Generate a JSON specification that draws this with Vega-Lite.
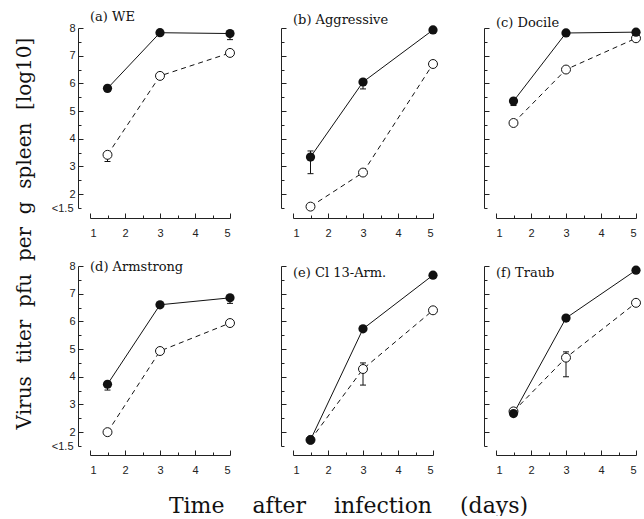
{
"$schema": "https://vega.github.io/schema/vega-lite/v6.json",
"background": "white",
"padding": {"left": 13, "top": 11, "right": 0, "bottom": 0},
"bounds": "flush",
"columns": 3,
"spacing": {"row": 58, "column": 63},
"data": {"values": [
{"panel":"a","s":"filled","day":1.5,"v":5.82},
{"panel":"a","s":"filled","day":3,"v":7.83},
{"panel":"a","s":"filled","day":5,"v":7.8,"lo":7.58,"hi":7.8},
{"panel":"a","s":"open","day":1.5,"v":3.42,"lo":3.18,"hi":3.45},
{"panel":"a","s":"open","day":3,"v":6.27},
{"panel":"a","s":"open","day":5,"v":7.1},
{"panel":"b","s":"filled","day":1.5,"v":3.34,"lo":2.74,"hi":3.56},
{"panel":"b","s":"filled","day":3,"v":6.05,"lo":5.8,"hi":6.1},
{"panel":"b","s":"filled","day":5,"v":7.93},
{"panel":"b","s":"open","day":1.5,"v":1.55},
{"panel":"b","s":"open","day":3,"v":2.78},
{"panel":"b","s":"open","day":5,"v":6.7},
{"panel":"c","s":"filled","day":1.5,"v":5.36,"lo":5.2,"hi":5.4},
{"panel":"c","s":"filled","day":3,"v":7.82},
{"panel":"c","s":"filled","day":5,"v":7.85},
{"panel":"c","s":"open","day":1.5,"v":4.57},
{"panel":"c","s":"open","day":3,"v":6.5},
{"panel":"c","s":"open","day":5,"v":7.63},
{"panel":"d","s":"filled","day":1.5,"v":3.73,"lo":3.52,"hi":3.75},
{"panel":"d","s":"filled","day":3,"v":6.6},
{"panel":"d","s":"filled","day":5,"v":6.85,"lo":6.65,"hi":6.85},
{"panel":"d","s":"open","day":1.5,"v":2.0},
{"panel":"d","s":"open","day":3,"v":4.93},
{"panel":"d","s":"open","day":5,"v":5.94},
{"panel":"e","s":"filled","day":1.5,"v":1.72},
{"panel":"e","s":"filled","day":3,"v":5.73},
{"panel":"e","s":"filled","day":5,"v":7.67},
{"panel":"e","s":"open","day":1.5,"v":1.72},
{"panel":"e","s":"open","day":3,"v":4.28,"lo":3.7,"hi":4.5},
{"panel":"e","s":"open","day":5,"v":6.4},
{"panel":"f","s":"filled","day":1.5,"v":2.67},
{"panel":"f","s":"filled","day":3,"v":6.12},
{"panel":"f","s":"filled","day":5,"v":7.85},
{"panel":"f","s":"open","day":1.5,"v":2.75},
{"panel":"f","s":"open","day":3,"v":4.69,"lo":4.0,"hi":4.9},
{"panel":"f","s":"open","day":5,"v":6.67}
]},
"config": {
  "view": {"stroke": null},
  "axis": {"grid": false, "domainColor": "#222", "tickColor": "#222", "labelColor": "#222", "labelFont": "Liberation Sans", "labelFontSize": 11, "title": null},
  "title": {"font": "DejaVu Serif", "fontSize": 13, "fontWeight": "normal", "color": "#111", "anchor": "start", "frame": "group"}
},
"concat": [
    {"width": 140, "height": 180, "title": {"text": "(a) WE", "offset": -2},
     "transform": [{"filter": "datum.panel === 'a'"}],
     "encoding": {
       "x": {"field": "day", "type": "quantitative", "scale": {"domain": [1, 5]}, "axis": {"offset": 10, "values": [1,1.5,2,2.5,3,3.5,4,4.5,5], "labelExpr": "datum.value % 1 === 0 ? format(datum.value, 'd') : ''", "tickSize": {"condition": {"test": "datum.value % 1 === 0", "value": -5}, "value": -3}, "labelPadding": 14}},
       "y": {"field": "v", "type": "quantitative", "scale": {"domain": [1.5, 8]}, "axis": {"offset": 12, "values": [1.5,2,2.5,3,3.5,4,4.5,5,5.5,6,6.5,7,7.5,8], "labelExpr": "datum.value === 1.5 ? '<1.5' : (datum.value % 1 === 0 ? format(datum.value, 'd') : '')", "tickSize": {"condition": {"test": "datum.value % 1 === 0", "value": -5}, "value": -3}, "labelPadding": 8,
         "title": "Virus\u00a0\u00a0titer\u00a0\u00a0pfu\u00a0\u00a0per\u00a0\u00a0g\u00a0\u00a0spleen\u00a0\u00a0[log10]", "titleFont": "DejaVu Serif", "titleFontSize": 20, "titleFontWeight": "normal", "titleColor": "#111", "titleAngle": -90, "titleBaseline": "middle", "titleAlign": "center", "titleX": -54, "titleY": 205}}
     },
     "layer": [
       {"transform": [{"filter": "datum.s === 'open'"}], "mark": {"type": "line", "color": "#111", "strokeWidth": 1, "strokeDash": [5, 4]}},
       {"transform": [{"filter": "datum.s === 'filled'"}], "mark": {"type": "line", "color": "#111", "strokeWidth": 1}},
       {"transform": [{"filter": "isValid(datum.lo)"}], "mark": {"type": "rule", "color": "#111", "strokeWidth": 1}, "encoding": {"y": {"field": "lo", "type": "quantitative"}, "y2": {"field": "hi"}}},
       {"transform": [{"filter": "isValid(datum.lo)"}], "mark": {"type": "tick", "orient": "horizontal", "color": "#111", "size": 6, "thickness": 1, "opacity": 1}, "encoding": {"y": {"field": "lo", "type": "quantitative"}}},
       {"transform": [{"filter": "isValid(datum.lo)"}], "mark": {"type": "tick", "orient": "horizontal", "color": "#111", "size": 6, "thickness": 1, "opacity": 1}, "encoding": {"y": {"field": "hi", "type": "quantitative"}}},
       {"transform": [{"filter": "datum.s === 'open'"}], "mark": {"type": "point", "shape": "circle", "filled": false, "fill": "white", "fillOpacity": 1, "stroke": "#111", "strokeWidth": 1, "size": 80, "opacity": 1}},
       {"transform": [{"filter": "datum.s === 'filled'"}], "mark": {"type": "circle", "color": "#111", "size": 85, "opacity": 1}}
     ]},
    {"width": 140, "height": 180, "title": {"text": "(b) Aggressive", "offset": -2},
     "transform": [{"filter": "datum.panel === 'b'"}],
     "encoding": {
       "x": {"field": "day", "type": "quantitative", "scale": {"domain": [1, 5]}, "axis": {"offset": 10, "values": [1,1.5,2,2.5,3,3.5,4,4.5,5], "labelExpr": "datum.value % 1 === 0 ? format(datum.value, 'd') : ''", "tickSize": {"condition": {"test": "datum.value % 1 === 0", "value": -5}, "value": -3}, "labelPadding": 14}},
       "y": {"field": "v", "type": "quantitative", "scale": {"domain": [1.5, 8]}, "axis": {"offset": 12, "values": [1.5,2,2.5,3,3.5,4,4.5,5,5.5,6,6.5,7,7.5,8], "labels": false, "tickSize": {"condition": {"test": "datum.value % 1 === 0", "value": -5}, "value": -3}}}
     },
     "layer": [
       {"transform": [{"filter": "datum.s === 'open'"}], "mark": {"type": "line", "color": "#111", "strokeWidth": 1, "strokeDash": [5, 4]}},
       {"transform": [{"filter": "datum.s === 'filled'"}], "mark": {"type": "line", "color": "#111", "strokeWidth": 1}},
       {"transform": [{"filter": "isValid(datum.lo)"}], "mark": {"type": "rule", "color": "#111", "strokeWidth": 1}, "encoding": {"y": {"field": "lo", "type": "quantitative"}, "y2": {"field": "hi"}}},
       {"transform": [{"filter": "isValid(datum.lo)"}], "mark": {"type": "tick", "orient": "horizontal", "color": "#111", "size": 6, "thickness": 1, "opacity": 1}, "encoding": {"y": {"field": "lo", "type": "quantitative"}}},
       {"transform": [{"filter": "isValid(datum.lo)"}], "mark": {"type": "tick", "orient": "horizontal", "color": "#111", "size": 6, "thickness": 1, "opacity": 1}, "encoding": {"y": {"field": "hi", "type": "quantitative"}}},
       {"transform": [{"filter": "datum.s === 'open'"}], "mark": {"type": "point", "shape": "circle", "filled": false, "fill": "white", "fillOpacity": 1, "stroke": "#111", "strokeWidth": 1, "size": 80, "opacity": 1}},
       {"transform": [{"filter": "datum.s === 'filled'"}], "mark": {"type": "circle", "color": "#111", "size": 85, "opacity": 1}}
     ]},
    {"width": 140, "height": 180, "title": {"text": "(c) Docile", "offset": -2},
     "transform": [{"filter": "datum.panel === 'c'"}],
     "encoding": {
       "x": {"field": "day", "type": "quantitative", "scale": {"domain": [1, 5]}, "axis": {"offset": 10, "values": [1,1.5,2,2.5,3,3.5,4,4.5,5], "labelExpr": "datum.value % 1 === 0 ? format(datum.value, 'd') : ''", "tickSize": {"condition": {"test": "datum.value % 1 === 0", "value": -5}, "value": -3}, "labelPadding": 14}},
       "y": {"field": "v", "type": "quantitative", "scale": {"domain": [1.5, 8]}, "axis": {"offset": 12, "values": [1.5,2,2.5,3,3.5,4,4.5,5,5.5,6,6.5,7,7.5,8], "labels": false, "tickSize": {"condition": {"test": "datum.value % 1 === 0", "value": -5}, "value": -3}}}
     },
     "layer": [
       {"transform": [{"filter": "datum.s === 'open'"}], "mark": {"type": "line", "color": "#111", "strokeWidth": 1, "strokeDash": [5, 4]}},
       {"transform": [{"filter": "datum.s === 'filled'"}], "mark": {"type": "line", "color": "#111", "strokeWidth": 1}},
       {"transform": [{"filter": "isValid(datum.lo)"}], "mark": {"type": "rule", "color": "#111", "strokeWidth": 1}, "encoding": {"y": {"field": "lo", "type": "quantitative"}, "y2": {"field": "hi"}}},
       {"transform": [{"filter": "isValid(datum.lo)"}], "mark": {"type": "tick", "orient": "horizontal", "color": "#111", "size": 6, "thickness": 1, "opacity": 1}, "encoding": {"y": {"field": "lo", "type": "quantitative"}}},
       {"transform": [{"filter": "isValid(datum.lo)"}], "mark": {"type": "tick", "orient": "horizontal", "color": "#111", "size": 6, "thickness": 1, "opacity": 1}, "encoding": {"y": {"field": "hi", "type": "quantitative"}}},
       {"transform": [{"filter": "datum.s === 'open'"}], "mark": {"type": "point", "shape": "circle", "filled": false, "fill": "white", "fillOpacity": 1, "stroke": "#111", "strokeWidth": 1, "size": 80, "opacity": 1}},
       {"transform": [{"filter": "datum.s === 'filled'"}], "mark": {"type": "circle", "color": "#111", "size": 85, "opacity": 1}}
     ]},
    {"width": 140, "height": 180, "title": {"text": "(d) Armstrong", "offset": -14},
     "transform": [{"filter": "datum.panel === 'd'"}],
     "encoding": {
       "x": {"field": "day", "type": "quantitative", "scale": {"domain": [1, 5]}, "axis": {"offset": 9, "values": [1,1.5,2,2.5,3,3.5,4,4.5,5], "labelExpr": "datum.value % 1 === 0 ? format(datum.value, 'd') : ''", "tickSize": {"condition": {"test": "datum.value % 1 === 0", "value": -5}, "value": -3}, "labelPadding": 14}},
       "y": {"field": "v", "type": "quantitative", "scale": {"domain": [1.5, 8]}, "axis": {"offset": 12, "values": [1.5,2,2.5,3,3.5,4,4.5,5,5.5,6,6.5,7,7.5,8], "labelExpr": "datum.value === 1.5 ? '<1.5' : (datum.value % 1 === 0 ? format(datum.value, 'd') : '')", "tickSize": {"condition": {"test": "datum.value % 1 === 0", "value": -5}, "value": -3}, "labelPadding": 8}}
     },
     "layer": [
       {"transform": [{"filter": "datum.s === 'open'"}], "mark": {"type": "line", "color": "#111", "strokeWidth": 1, "strokeDash": [5, 4]}},
       {"transform": [{"filter": "datum.s === 'filled'"}], "mark": {"type": "line", "color": "#111", "strokeWidth": 1}},
       {"transform": [{"filter": "isValid(datum.lo)"}], "mark": {"type": "rule", "color": "#111", "strokeWidth": 1}, "encoding": {"y": {"field": "lo", "type": "quantitative"}, "y2": {"field": "hi"}}},
       {"transform": [{"filter": "isValid(datum.lo)"}], "mark": {"type": "tick", "orient": "horizontal", "color": "#111", "size": 6, "thickness": 1, "opacity": 1}, "encoding": {"y": {"field": "lo", "type": "quantitative"}}},
       {"transform": [{"filter": "isValid(datum.lo)"}], "mark": {"type": "tick", "orient": "horizontal", "color": "#111", "size": 6, "thickness": 1, "opacity": 1}, "encoding": {"y": {"field": "hi", "type": "quantitative"}}},
       {"transform": [{"filter": "datum.s === 'open'"}], "mark": {"type": "point", "shape": "circle", "filled": false, "fill": "white", "fillOpacity": 1, "stroke": "#111", "strokeWidth": 1, "size": 80, "opacity": 1}},
       {"transform": [{"filter": "datum.s === 'filled'"}], "mark": {"type": "circle", "color": "#111", "size": 85, "opacity": 1}}
     ]},
    {"width": 140, "height": 180, "title": {"text": "(e) Cl 13-Arm.", "offset": -14},
     "transform": [{"filter": "datum.panel === 'e'"}],
     "encoding": {
       "x": {"field": "day", "type": "quantitative", "scale": {"domain": [1, 5]}, "axis": {"offset": 9, "values": [1,1.5,2,2.5,3,3.5,4,4.5,5], "labelExpr": "datum.value % 1 === 0 ? format(datum.value, 'd') : ''", "tickSize": {"condition": {"test": "datum.value % 1 === 0", "value": -5}, "value": -3}, "labelPadding": 14,
         "title": "Time\u00a0\u00a0\u00a0\u00a0after\u00a0\u00a0\u00a0\u00a0infection\u00a0\u00a0\u00a0\u00a0(days)", "titleFont": "DejaVu Serif", "titleFontSize": 22, "titleFontWeight": "normal", "titleColor": "#111", "titleBaseline": "middle", "titleAlign": "center", "titleX": 55, "titleY": 50}},
       "y": {"field": "v", "type": "quantitative", "scale": {"domain": [1.5, 8]}, "axis": {"offset": 12, "values": [1.5,2,2.5,3,3.5,4,4.5,5,5.5,6,6.5,7,7.5,8], "labels": false, "tickSize": {"condition": {"test": "datum.value % 1 === 0", "value": -5}, "value": -3}}}
     },
     "layer": [
       {"transform": [{"filter": "datum.s === 'open'"}], "mark": {"type": "line", "color": "#111", "strokeWidth": 1, "strokeDash": [5, 4]}},
       {"transform": [{"filter": "datum.s === 'filled'"}], "mark": {"type": "line", "color": "#111", "strokeWidth": 1}},
       {"transform": [{"filter": "isValid(datum.lo)"}], "mark": {"type": "rule", "color": "#111", "strokeWidth": 1}, "encoding": {"y": {"field": "lo", "type": "quantitative"}, "y2": {"field": "hi"}}},
       {"transform": [{"filter": "isValid(datum.lo)"}], "mark": {"type": "tick", "orient": "horizontal", "color": "#111", "size": 6, "thickness": 1, "opacity": 1}, "encoding": {"y": {"field": "lo", "type": "quantitative"}}},
       {"transform": [{"filter": "isValid(datum.lo)"}], "mark": {"type": "tick", "orient": "horizontal", "color": "#111", "size": 6, "thickness": 1, "opacity": 1}, "encoding": {"y": {"field": "hi", "type": "quantitative"}}},
       {"transform": [{"filter": "datum.s === 'open'"}], "mark": {"type": "point", "shape": "circle", "filled": false, "fill": "white", "fillOpacity": 1, "stroke": "#111", "strokeWidth": 1, "size": 80, "opacity": 1}},
       {"transform": [{"filter": "datum.s === 'filled'"}], "mark": {"type": "circle", "color": "#111", "size": 85, "opacity": 1}}
     ]},
    {"width": 140, "height": 180, "title": {"text": "(f) Traub", "offset": -14},
     "transform": [{"filter": "datum.panel === 'f'"}],
     "encoding": {
       "x": {"field": "day", "type": "quantitative", "scale": {"domain": [1, 5]}, "axis": {"offset": 9, "values": [1,1.5,2,2.5,3,3.5,4,4.5,5], "labelExpr": "datum.value % 1 === 0 ? format(datum.value, 'd') : ''", "tickSize": {"condition": {"test": "datum.value % 1 === 0", "value": -5}, "value": -3}, "labelPadding": 14}},
       "y": {"field": "v", "type": "quantitative", "scale": {"domain": [1.5, 8]}, "axis": {"offset": 12, "values": [1.5,2,2.5,3,3.5,4,4.5,5,5.5,6,6.5,7,7.5,8], "labels": false, "tickSize": {"condition": {"test": "datum.value % 1 === 0", "value": -5}, "value": -3}}}
     },
     "layer": [
       {"transform": [{"filter": "datum.s === 'open'"}], "mark": {"type": "line", "color": "#111", "strokeWidth": 1, "strokeDash": [5, 4]}},
       {"transform": [{"filter": "datum.s === 'filled'"}], "mark": {"type": "line", "color": "#111", "strokeWidth": 1}},
       {"transform": [{"filter": "isValid(datum.lo)"}], "mark": {"type": "rule", "color": "#111", "strokeWidth": 1}, "encoding": {"y": {"field": "lo", "type": "quantitative"}, "y2": {"field": "hi"}}},
       {"transform": [{"filter": "isValid(datum.lo)"}], "mark": {"type": "tick", "orient": "horizontal", "color": "#111", "size": 6, "thickness": 1, "opacity": 1}, "encoding": {"y": {"field": "lo", "type": "quantitative"}}},
       {"transform": [{"filter": "isValid(datum.lo)"}], "mark": {"type": "tick", "orient": "horizontal", "color": "#111", "size": 6, "thickness": 1, "opacity": 1}, "encoding": {"y": {"field": "hi", "type": "quantitative"}}},
       {"transform": [{"filter": "datum.s === 'open'"}], "mark": {"type": "point", "shape": "circle", "filled": false, "fill": "white", "fillOpacity": 1, "stroke": "#111", "strokeWidth": 1, "size": 80, "opacity": 1}},
       {"transform": [{"filter": "datum.s === 'filled'"}], "mark": {"type": "circle", "color": "#111", "size": 85, "opacity": 1}}
     ]}
]
}
